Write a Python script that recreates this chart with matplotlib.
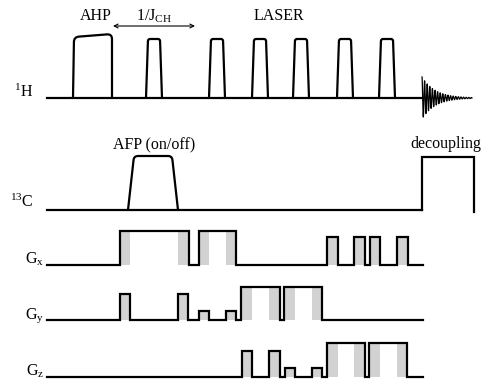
import numpy as np
import matplotlib.pyplot as plt
from matplotlib.path import Path
from matplotlib.patches import PathPatch, Rectangle

plt.rcParams['font.family'] = ['Liberation Serif', 'DejaVu Serif']
plt.rcParams['mathtext.fontset'] = 'custom'
plt.rcParams['mathtext.rm'] = 'Liberation Serif'
plt.rcParams['mathtext.it'] = 'Liberation Serif:italic'

# time runs left -> right, channel baselines top -> bottom (screen units)
t_start, t_end = 47, 423
h_base, c_base = 98, 210
gx_base, gy_base, gz_base = 265, 320, 377

# 1H: adiabatic half passage, then the selective (LASER) pulses, then the FID
ahp_on, ahp_off, ahp_height, ahp_tilt = 73, 112, 61, 3
sel_on = [146, 209, 252, 293, 337, 379]
sel_width, sel_height = 16, 59
fid_on, fid_len, fid_amp, fid_decay, fid_period = 422, 50, 21, 13, 2.6

# 13C: adiabatic full passage and decoupling
afp_on, afp_off, afp_height = 128, 178, 54
dec_on, dec_off, dec_height = 422, 474, 53

# gradients: (on, off, amplitude)
gx_pulses = [(120, 189, 34), (199, 236, 34), (327, 338, 28),
             (354, 365, 28), (370, 380, 28), (397, 408, 28)]
gy_pulses = [(120, 130, 26), (178, 188, 26), (199, 209, 9),
             (226, 236, 9), (241, 280, 33), (284, 322, 33)]
gz_pulses = [(242, 252, 26), (269, 280, 26), (285, 295, 9),
             (312, 322, 9), (327, 365, 34), (369, 407, 34)]
# crusher windows (shaded grey)
crushers = [(120, 130), (178, 189), (199, 209), (226, 236), (241, 252), (269, 280),
            (284, 295), (312, 322), (327, 338), (354, 365), (369, 380), (397, 408)]

LW = 1.6
GREY = '#d2d2d2'


def corner(a, b, c, r):
    a, b, c = np.array(a, float), np.array(b, float), np.array(c, float)
    u1 = (a - b) / np.linalg.norm(a - b)
    u2 = (c - b) / np.linalg.norm(c - b)
    return tuple(b + r * u1), tuple(b), tuple(b + r * u2)


def soft_pulse(ax, on, off, height, base, ramp_up, ramp_down, r, tilt=0):
    p0 = (on, base)
    c1 = (on + ramp_up, base - height)
    c2 = (off - ramp_down, base - height - tilt)
    p3 = (off, base)
    a1, b1, e1 = corner(p0, c1, c2, r)
    a2, b2, e2 = corner(c1, c2, p3, r)
    verts = [p0, a1, b1, e1, a2, b2, e2, p3]
    codes = [Path.MOVETO, Path.LINETO, Path.CURVE3, Path.CURVE3,
             Path.LINETO, Path.CURVE3, Path.CURVE3, Path.LINETO]
    ax.add_patch(PathPatch(Path(verts, codes), fill=False, lw=LW, color='black',
                           capstyle='butt', joinstyle='round'))


def gradient(ax, pulses, base):
    xs, ys = [t_start], [base]
    for on, off, amp in pulses:
        xs += [on, on, off, off]
        ys += [base, base - amp, base - amp, base]
        for lo, hi in crushers:
            left, right = max(lo, on), min(hi, off)
            if right > left:
                ax.add_patch(Rectangle((left, base - amp), right - left, amp,
                                       facecolor=GREY, edgecolor='none', zorder=1))
    xs.append(t_end)
    ys.append(base)
    ax.plot(xs, ys, color='black', lw=LW, solid_joinstyle='miter', zorder=2)


fig = plt.figure(figsize=(4.94, 3.88), dpi=100)
ax = fig.add_axes([0, 0, 1, 1])
ax.set_xlim(0, 494)
ax.set_ylim(388, 0)
ax.axis('off')

# 1H channel
ax.plot([t_start, fid_on], [h_base, h_base], color='black', lw=LW)
soft_pulse(ax, ahp_on, ahp_off, ahp_height, h_base, 1, 0.01, 5, tilt=ahp_tilt)
for s in sel_on:
    soft_pulse(ax, s, s + sel_width, sel_height, h_base, 2, 2, 2)
t = np.linspace(0, fid_len, 3000)
fid = fid_amp * np.exp(-t / fid_decay) * np.cos(2 * np.pi * t / fid_period)
ax.plot(fid_on + t, h_base - fid, color='black', lw=0.9)

# 13C channel
ax.plot([t_start, dec_on], [c_base, c_base], color='black', lw=LW)
soft_pulse(ax, afp_on, afp_off, afp_height, c_base, 6, 6, 4)
ax.plot([dec_on, dec_on, dec_off, dec_off],
        [c_base, c_base - dec_height, c_base - dec_height, c_base + 2],
        color='black', lw=LW, solid_joinstyle='miter')

# gradient channels
gradient(ax, gx_pulses, gx_base)
gradient(ax, gy_pulses, gy_base)
gradient(ax, gz_pulses, gz_base)

# annotations
fs = 11.5
ax.text(96, 16, 'AHP', fontsize=fs, ha='center', va='center')
ax.text(154, 16, r'1/J$_{\mathrm{CH}}$', fontsize=fs, ha='center', va='center')
ax.annotate('', xy=(113, 26), xytext=(195, 26),
            arrowprops=dict(arrowstyle='<->', lw=0.8, color='black',
                            shrinkA=0, shrinkB=0, mutation_scale=7))
ax.text(279, 16, 'LASER', fontsize=fs, ha='center', va='center')
ax.text(154, 145, 'AFP (on/off)', fontsize=fs, ha='center', va='center')
ax.text(446, 144, 'decoupling', fontsize=fs, ha='center', va='center')

ax.text(33, 97, r'$^{1}$H', fontsize=fs, ha='right', va='baseline')
ax.text(33, 207, r'$^{13}$C', fontsize=fs, ha='right', va='baseline')
ax.text(44, 264, r'G$_{\mathrm{x}}$', fontsize=fs, ha='right', va='baseline')
ax.text(44, 319, r'G$_{\mathrm{y}}$', fontsize=fs, ha='right', va='baseline')
ax.text(44, 376, r'G$_{\mathrm{z}}$', fontsize=fs, ha='right', va='baseline')

fig.savefig('out.png', dpi=100)
